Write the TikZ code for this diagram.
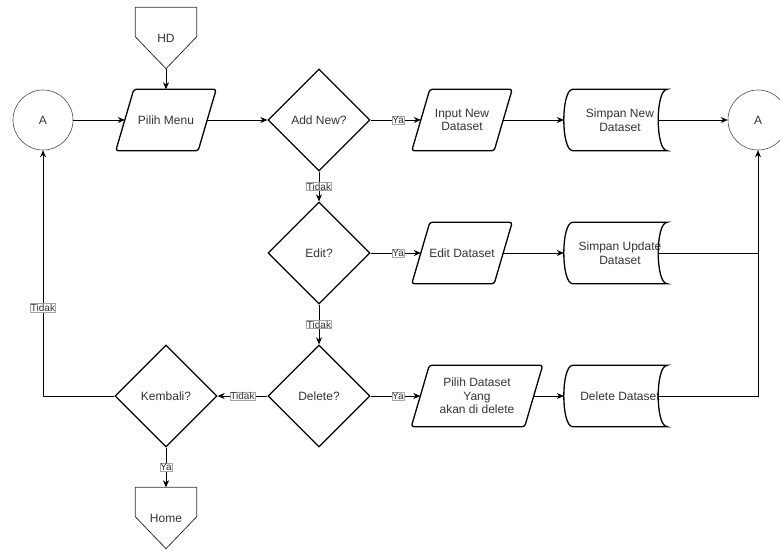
\documentclass[tikz,border=0pt]{standalone}
\usepackage{fontspec}
\setmainfont{Liberation Sans}
\usetikzlibrary{shapes.geometric, arrows.meta, calc}

\tikzset{
    base/.style={text=black!80, font=\fontsize{12}{13.5}\selectfont, align=center, inner sep=1pt},
    io/.style={base, minimum width=100pt, minimum height=61pt},
    decision/.style={base, draw, fill=white, line width=1.3pt, diamond, aspect=1,
        minimum width=102pt, minimum height=102pt},
    connector/.style={base, draw=black!70, fill=white, line width=0.6pt, circle, minimum size=60pt},
    store/.style={base, minimum width=94pt, minimum height=61pt},
    offpage/.style={base, minimum width=61pt, minimum height=61pt},
    flow/.style={line width=0.7pt, -{Stealth[length=7pt,width=6pt]}},
    plain/.style={line width=0.7pt},
    lbl/.style={draw=black!35, fill=white, text=black!80, font=\fontsize{10}{11}\selectfont,
        inner sep=0.5pt, line width=0.4pt}
}

% parallelogram outline round an io node
\newcommand{\ioshape}[1]{%
    \draw[line width=1.3pt, rounded corners=2.5pt] ([xshift=18pt]#1.north west) -- (#1.north east)
        -- ([xshift=-18pt]#1.south east) -- (#1.south west) -- cycle;}
% stored data outline round a store node
\newcommand{\storeshape}[1]{%
    \draw[line width=1.3pt] (#1.north west) .. controls ([xshift=-12pt]#1.north west) and ([xshift=-12pt]#1.south west) .. (#1.south west)
        -- (#1.south east) .. controls ([xshift=-12pt]#1.south east) and ([xshift=-12pt]#1.north east) .. (#1.north east) -- cycle;}
% off-page connector outline round an offpage node
\newcommand{\offpageshape}[1]{%
    \draw[line width=0.8pt, draw=black!80] (#1.north west) -- (#1.north east)
        -- ([yshift=32pt]#1.south east) -- (#1.south) -- ([yshift=32pt]#1.south west) -- cycle;}

\begin{document}
\begin{tikzpicture}[x=1pt, y=-1pt]
    \useasboundingbox (0,0) rectangle (780,550);

    \node[offpage] (hd) at (166,38) {HD};
    \node[io] (pm) at (166,120) {Pilih Menu};
    \node[connector] (ca) at (43,120) {A};
    \node[decision] (an) at (319,120) {Add New?};
    \node[io] (in) at (462,120) {Input New\\Dataset};
    \node[store] (sn) at (620,120) {Simpan New\\Dataset};
    \node[connector] (cb) at (758,120) {A};

    \node[decision] (ed) at (319,253) {Edit?};
    \node[io] (eds) at (462,253) {Edit Dataset};
    \node[store] (su) at (620,253) {Simpan Update\\Dataset};

    \node[decision] (dl) at (319,396) {Delete?};
    \node[io, minimum width=131pt] (pd) at (477,396) {Pilih Dataset\\Yang\\akan di delete};
    \node[store] (dd) at (620,396) {Delete Dataset};
    \node[decision] (kb) at (166,396) {Kembali?};
    \node[offpage] (hm) at (166,518) {Home};

    \offpageshape{hd}
    \offpageshape{hm}
    \ioshape{pm}
    \ioshape{in}
    \ioshape{eds}
    \ioshape{pd}
    \storeshape{sn}
    \storeshape{su}
    \storeshape{dd}

    \draw[flow] (hd.south) -- (pm.north);
    \draw[flow] (ca.east) -- ([xshift=9pt]pm.west);
    \draw[flow] ([xshift=-9pt]pm.east) -- (an.west);
    \draw[flow] (an.east) -- node[lbl, pos=0.55] {Ya} ([xshift=9pt]in.west);
    \draw[flow] ([xshift=-9pt]in.east) -- ([xshift=-9pt]sn.west);
    \draw[flow] ([xshift=-9pt]sn.east) -- (cb.west);

    \draw[flow] (an.south) -- node[lbl] {Tidak} (ed.north);
    \draw[flow] (ed.east) -- node[lbl, pos=0.55] {Ya} ([xshift=9pt]eds.west);
    \draw[flow] ([xshift=-9pt]eds.east) -- ([xshift=-9pt]su.west);
    \draw[plain] ([xshift=-9pt]su.east) -- (cb.south |- su.east);

    \draw[flow] (ed.south) -- node[lbl] {Tidak} (dl.north);
    \draw[flow] (dl.east) -- node[lbl, pos=0.55] {Ya} ([xshift=9pt]pd.west);
    \draw[flow] ([xshift=-9pt]pd.east) -- ([xshift=-9pt]dd.west);
    \draw[flow] ([xshift=-9pt]dd.east) -| (cb.south);

    \draw[flow] (dl.west) -- node[lbl] {Tidak} (kb.east);
    \draw[flow] (kb.west) -| node[lbl, pos=0.68] {Tidak} (ca.south);
    \draw[flow] (kb.south) -- node[lbl] {Ya} (hm.north);
\end{tikzpicture}
\end{document}
